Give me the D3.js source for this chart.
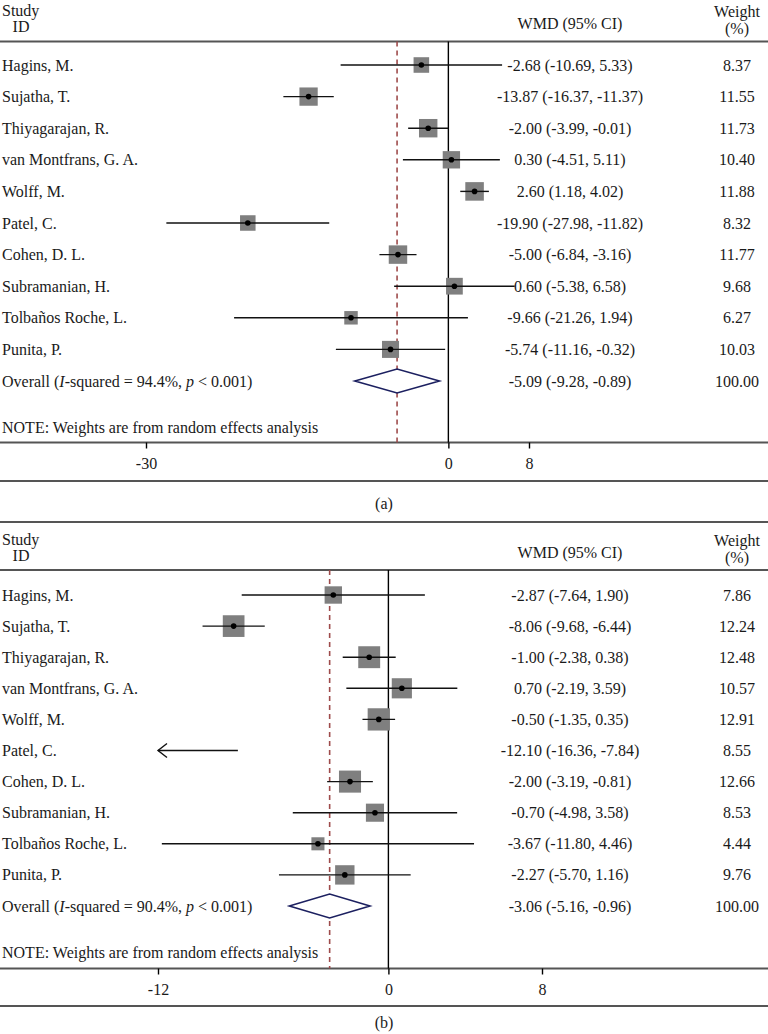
<!DOCTYPE html>
<html>
<head>
<meta charset="utf-8">
<script src="https://cdn.jsdelivr.net/npm/d3@7"></script>
<style>
  body { margin: 0; background: #fff; }
  svg { display: block; font-family: "Liberation Serif", "DejaVu Serif", serif; }
</style>
</head>
<body>
<div id="chart"></div>
<script>
// study labels, shared by both panels
const studies = ["Hagins, M.", "Sujatha, T.", "Thiyagarajan, R.", "van Montfrans, G. A.", "Wolff, M.",
  "Patel, C.", "Cohen, D. L.", "Subramanian, H.", "Tolbaños Roche, L.", "Punita, P."];

// panel (a)
const wmdA    = [-2.68, -13.87, -2.00, 0.30, 2.60, -19.90, -5.00, 0.60, -9.66, -5.74];
const lowA    = [-10.69, -16.37, -3.99, -4.51, 1.18, -27.98, -6.84, -5.38, -21.26, -11.16];
const highA   = [5.33, -11.37, -0.01, 5.11, 4.02, -11.82, -3.16, 6.58, 1.94, -0.32];
const weightA = [8.37, 11.55, 11.73, 10.40, 11.88, 8.32, 11.77, 9.68, 6.27, 10.03];
const overallA = [-5.09, -9.28, -0.89];
const i2A = "94.4%";
const ticksA = [-30, 0, 8];

// panel (b)
const wmdB    = [-2.87, -8.06, -1.00, 0.70, -0.50, -12.10, -2.00, -0.70, -3.67, -2.27];
const lowB    = [-7.64, -9.68, -2.38, -2.19, -1.35, -16.36, -3.19, -4.98, -11.80, -5.70];
const highB   = [1.90, -6.44, 0.38, 3.59, 0.35, -7.84, -0.81, 3.58, 4.46, 1.16];
const weightB = [7.86, 12.24, 12.48, 10.57, 12.91, 8.55, 12.66, 8.53, 4.44, 9.76];
const overallB = [-3.06, -5.16, -0.96];
const i2B = "90.4%";
const ticksB = [-12, 0, 8];

const W = 768, H = 1034;
const fmt = d3.formatLocale({ decimal: ".", thousands: ",", grouping: [3], currency: ["", ""], minus: "-" }).format(".2f");

const svg = d3.select("#chart").append("svg")
  .attr("width", W).attr("height", H);

function drawPanel(p) {
  const g = svg.append("g");
  const ink = "#1a1a1a";
  const rule = "#555";

  const x = d3.scaleLinear().domain(p.domain).range(p.xRange);
  const y = d3.scalePoint().domain(d3.range(studies.length + 1)).range(p.rowRange);

  // horizontal rules
  [p.top, p.headerLine, p.axisY, p.bottom].forEach(yy => {
    g.append("line").attr("x1", 0).attr("x2", W).attr("y1", yy).attr("y2", yy)
      .attr("stroke", rule).attr("stroke-width", 2);
  });

  // header
  const hdr = g.append("g").attr("font-size", 16).attr("fill", ink);
  hdr.append("text").attr("x", 2).attr("y", p.headerLine - 31).attr("dominant-baseline", "central").text("Study");
  hdr.append("text").attr("x", 21).attr("y", p.headerLine - 15).attr("text-anchor", "middle").attr("dominant-baseline", "central").text("ID");
  hdr.append("text").attr("x", 570).attr("y", p.headerLine - 18).attr("text-anchor", "middle").attr("dominant-baseline", "central").text("WMD (95% CI)");
  hdr.append("text").attr("x", 737).attr("y", p.headerLine - 30).attr("text-anchor", "middle").attr("dominant-baseline", "central").text("Weight");
  hdr.append("text").attr("x", 737).attr("y", p.headerLine - 13).attr("text-anchor", "middle").attr("dominant-baseline", "central").text("(%)");

  // null line and overall dashed line
  g.append("line").attr("x1", x(0)).attr("x2", x(0)).attr("y1", p.headerLine).attr("y2", p.axisY)
    .attr("stroke", "#000").attr("stroke-width", 1.4);
  g.append("line").attr("x1", x(p.overall[0])).attr("x2", x(p.overall[0]))
    .attr("y1", p.headerLine).attr("y2", p.axisY)
    .attr("stroke", "#9e4b4b").attr("stroke-width", 1.6).attr("stroke-dasharray", "5,4");

  const rows = studies.map((s, i) => ({ s, i, es: p.es[i], lo: p.lo[i], hi: p.hi[i], w: p.w[i] }));
  const [dMin, dMax] = p.domain;

  const row = g.selectAll("g.row").data(rows).enter().append("g").attr("class", "row");

  // boxes (area proportional to weight)
  row.filter(d => d.es >= dMin && d.es <= dMax)
    .append("rect")
    .attr("x", d => x(d.es) - p.k * Math.sqrt(d.w) / 2)
    .attr("y", d => y(d.i) - p.k * Math.sqrt(d.w) / 2)
    .attr("width", d => p.k * Math.sqrt(d.w))
    .attr("height", d => p.k * Math.sqrt(d.w))
    .attr("fill", "#7f7f7f");

  // CI lines, clipped at the axis limits
  row.append("line")
    .attr("x1", d => x(Math.max(d.lo, dMin)))
    .attr("x2", d => x(Math.min(d.hi, dMax)))
    .attr("y1", d => y(d.i)).attr("y2", d => y(d.i))
    .attr("stroke", "#111").attr("stroke-width", 1.4);

  // arrow for clipped lower limits
  row.filter(d => d.lo < dMin)
    .append("path")
    .attr("d", d => {
      const ax = x(dMin), ay = y(d.i);
      return `M${ax + 9},${ay - 7}L${ax},${ay}L${ax + 9},${ay + 7}`;
    })
    .attr("fill", "none").attr("stroke", "#111").attr("stroke-width", 1.4);

  // point estimate dots
  row.filter(d => d.es >= dMin && d.es <= dMax)
    .append("circle")
    .attr("cx", d => x(d.es)).attr("cy", d => y(d.i)).attr("r", 2.8)
    .attr("fill", "#000");

  // labels and columns
  row.append("text").attr("x", 2).attr("y", d => y(d.i)).attr("dominant-baseline", "central")
    .attr("font-size", 16).attr("fill", ink).text(d => d.s);
  row.append("text").attr("x", 570).attr("y", d => y(d.i)).attr("dominant-baseline", "central")
    .attr("text-anchor", "middle").attr("font-size", 16).attr("fill", ink)
    .text(d => `${fmt(d.es)} (${fmt(d.lo)}, ${fmt(d.hi)})`);
  row.append("text").attr("x", 737).attr("y", d => y(d.i)).attr("dominant-baseline", "central")
    .attr("text-anchor", "middle").attr("font-size", 16).attr("fill", ink)
    .text(d => fmt(d.w));

  // overall row
  const oy = y(studies.length);
  const [oes, olo, ohi] = p.overall;
  g.append("path")
    .attr("d", `M${x(olo)},${oy}L${x(oes)},${oy - 12}L${x(ohi)},${oy}L${x(oes)},${oy + 12}Z`)
    .attr("fill", "#fff").attr("stroke", "#1c2060").attr("stroke-width", 1.6);

  const ot = g.append("text").attr("x", 2).attr("y", oy).attr("dominant-baseline", "central")
    .attr("font-size", 16).attr("fill", ink);
  ot.append("tspan").text("Overall (");
  ot.append("tspan").attr("font-style", "italic").text("I");
  ot.append("tspan").text(`-squared = ${p.i2}, `);
  ot.append("tspan").attr("font-style", "italic").text("p");
  ot.append("tspan").text(" < 0.001)");

  g.append("text").attr("x", 570).attr("y", oy).attr("dominant-baseline", "central")
    .attr("text-anchor", "middle").attr("font-size", 16).attr("fill", ink)
    .text(`${fmt(oes)} (${fmt(olo)}, ${fmt(ohi)})`);
  g.append("text").attr("x", 737).attr("y", oy).attr("dominant-baseline", "central")
    .attr("text-anchor", "middle").attr("font-size", 16).attr("fill", ink)
    .text(fmt(100));

  g.append("text").attr("x", 2).attr("y", p.noteY).attr("dominant-baseline", "central")
    .attr("font-size", 16).attr("fill", ink)
    .text("NOTE: Weights are from random effects analysis");

  // x axis
  const axis = g.append("g").attr("transform", `translate(0,${p.axisY})`)
    .call(d3.axisBottom(x).tickValues(p.ticks).tickSize(6).tickPadding(9).tickFormat(d3.format("d")));
  axis.select(".domain").remove();
  axis.selectAll(".tick line").attr("stroke", "#000").attr("stroke-width", 1.4);
  axis.selectAll(".tick text").attr("font-size", 16).attr("fill", ink)
    .attr("font-family", "Liberation Serif, serif")
    .text(d => d3.format("d")(d).replace("−", "-"));

  g.append("text").attr("x", W / 2).attr("y", p.captionY).attr("dominant-baseline", "central")
    .attr("text-anchor", "middle").attr("font-size", 16).attr("fill", ink).text(p.caption);
}

drawPanel({
  es: wmdA, lo: lowA, hi: highA, w: weightA, overall: overallA, i2: i2A, ticks: ticksA,
  domain: [-30, 8], xRange: [146, 529], k: 5.38,
  top: -6, headerLine: 41.5, rowRange: [65, 381], noteY: 427, axisY: 442.5, bottom: 481, captionY: 503,
  caption: "(a)"
});

drawPanel({
  es: wmdB, lo: lowB, hi: highB, w: weightB, overall: overallB, i2: i2B, ticks: ticksB,
  domain: [-12, 8], xRange: [158, 542], k: 6.2,
  top: 522, headerLine: 570, rowRange: [595, 906], noteY: 952, axisY: 968.5, bottom: 1006, captionY: 1022,
  caption: "(b)"
});
</script>
</body>
</html>
